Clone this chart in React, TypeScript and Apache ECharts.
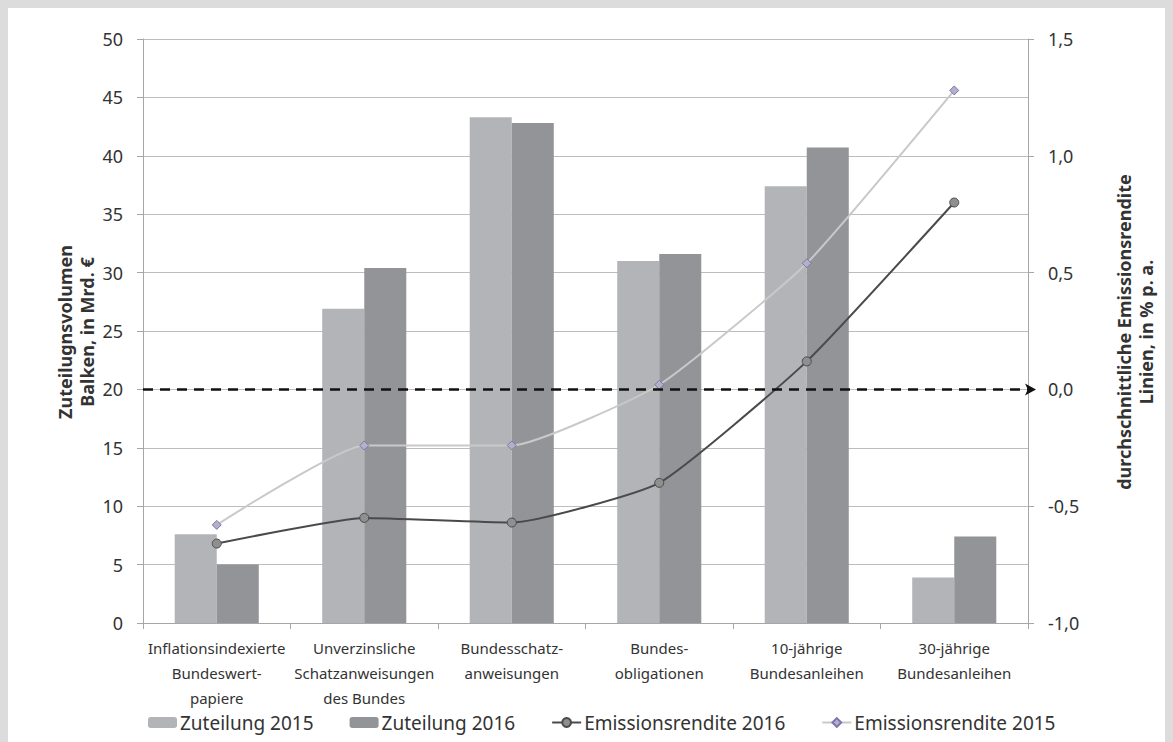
import React, { useEffect, useRef } from "react";
import * as echarts from "echarts";

const categories = [
  "Inflationsindexierte\nBundeswert-\npapiere",
  "Unverzinsliche\nSchatzanweisungen\ndes Bundes",
  "Bundesschatz-\nanweisungen",
  "Bundes-\nobligationen",
  "10-jährige\nBundesanleihen",
  "30-jährige\nBundesanleihen",
];
const zuteilung2015 = [7.6, 26.9, 43.3, 31.0, 37.4, 3.9];
const zuteilung2016 = [5.0, 30.4, 42.8, 31.6, 40.7, 7.4];
const rendite2016 = [-0.66, -0.55, -0.57, -0.4, 0.12, 0.8];
const rendite2015 = [-0.58, -0.24, -0.24, 0.02, 0.54, 1.28];

const leftName = "Zuteilugnsvolumen\nBalken, in Mrd. €";
const rightName = "durchschnittliche Emissionsrendite\nLinien, in % p. a.";

const FONT = "'Noto Sans', sans-serif";

export default function App() {
  const ref = useRef<HTMLDivElement>(null);
  useEffect(() => {
    document.body.style.background = "#dcdcdc";
    const chart = echarts.init(ref.current!, null, { renderer: "svg" });
    const axisGrey = "#a6a6a6";
    chart.setOption({
      animation: false,
      backgroundColor: "#ffffff",
      textStyle: { fontFamily: FONT, color: "#333" },
      grid: { left: 135, right: 145, top: 31, bottom: 119 },
      legend: {
        left: 135,
        top: 700,
        itemWidth: 29,
        itemHeight: 11,
        itemGap: 36,
        textStyle: { fontSize: 19, color: "#333", fontFamily: FONT, padding: [0, 0, 0, -2] },
        data: ["Zuteilung 2015", "Zuteilung 2016", "Emissionsrendite 2016", "Emissionsrendite 2015"],
      },
      xAxis: {
        type: "category",
        data: categories,
        axisLine: { lineStyle: { color: axisGrey } },
        axisTick: { show: true, length: 6, lineStyle: { color: axisGrey } },
        axisLabel: { interval: 0, fontSize: 15, lineHeight: 25, color: "#333", margin: 12, fontFamily: FONT },
      },
      yAxis: [
        {
          type: "value",
          min: 0,
          max: 50,
          interval: 5,
          axisLine: { show: true, lineStyle: { color: axisGrey } },
          axisTick: { show: true, length: 6, lineStyle: { color: axisGrey } },
          axisLabel: { fontSize: 18, color: "#333", margin: 20, fontFamily: FONT },
          splitLine: { lineStyle: { color: "#bdbdbd" } },
        },
        {
          type: "value",
          min: -1,
          max: 1.5,
          interval: 0.5,
          axisLine: { show: true, lineStyle: { color: axisGrey } },
          axisTick: { show: true, length: 6, lineStyle: { color: axisGrey } },
          axisLabel: {
            fontSize: 18,
            color: "#333",
            margin: 20,
            fontFamily: FONT,
            formatter: (v: number) => v.toFixed(1).replace(".", ","),
          },
          splitLine: { show: false },
        },
      ],
      series: [
        {
          name: "Zuteilung 2015",
          type: "bar",
          data: zuteilung2015,
          itemStyle: { color: "#b3b4b7" },
          barGap: "0%",
          barCategoryGap: "43%",
        },
        {
          name: "Zuteilung 2016",
          type: "bar",
          data: zuteilung2016,
          itemStyle: { color: "#939498" },
          barGap: "0%",
          barCategoryGap: "43%",
        },
        {
          name: "Emissionsrendite 2016",
          type: "line",
          yAxisIndex: 1,
          data: rendite2016,
          smooth: 0.15,
          symbol: "circle",
          symbolSize: 9,
          z: 4,
          lineStyle: { color: "#4a4a4a", width: 2 },
          itemStyle: { color: "#8f8f8f", borderColor: "#4a4a4a", borderWidth: 1 },
          markLine: {
            silent: true,
            symbol: ["none", "arrow"],
            symbolSize: [9, 11],
            symbolOffset: [0, [0, -8]],
            label: { show: false },
            lineStyle: { color: "#111", width: 2.5, type: [10, 7] },
            data: [{ yAxis: 0 }],
          },
        },
        {
          name: "Emissionsrendite 2015",
          type: "line",
          yAxisIndex: 1,
          data: rendite2015,
          smooth: 0.15,
          symbol: "diamond",
          symbolSize: 9,
          z: 3,
          lineStyle: { color: "#c9c9c9", width: 2 },
          itemStyle: { color: "#b4b1c6", borderColor: "#7e72b0", borderWidth: 1 },
        },
      ],
      graphic: [
        {
          type: "text",
          x: 68,
          y: 324,
          rotation: Math.PI / 2,
          style: {
            text: leftName,
            fontFamily: FONT,
            fontSize: 18,
            fontWeight: "bold",
            lineHeight: 22,
            fill: "#333",
            align: "center",
            verticalAlign: "middle",
          },
        },
        {
          type: "text",
          x: 1127,
          y: 324,
          rotation: Math.PI / 2,
          style: {
            text: rightName,
            fontFamily: FONT,
            fontSize: 18,
            fontWeight: "bold",
            lineHeight: 22,
            fill: "#333",
            align: "center",
            verticalAlign: "middle",
          },
        },
      ],
    });
    return () => chart.dispose();
  }, []);
  return <div ref={ref} style={{ width: 1165, height: 734 }} />;
}
